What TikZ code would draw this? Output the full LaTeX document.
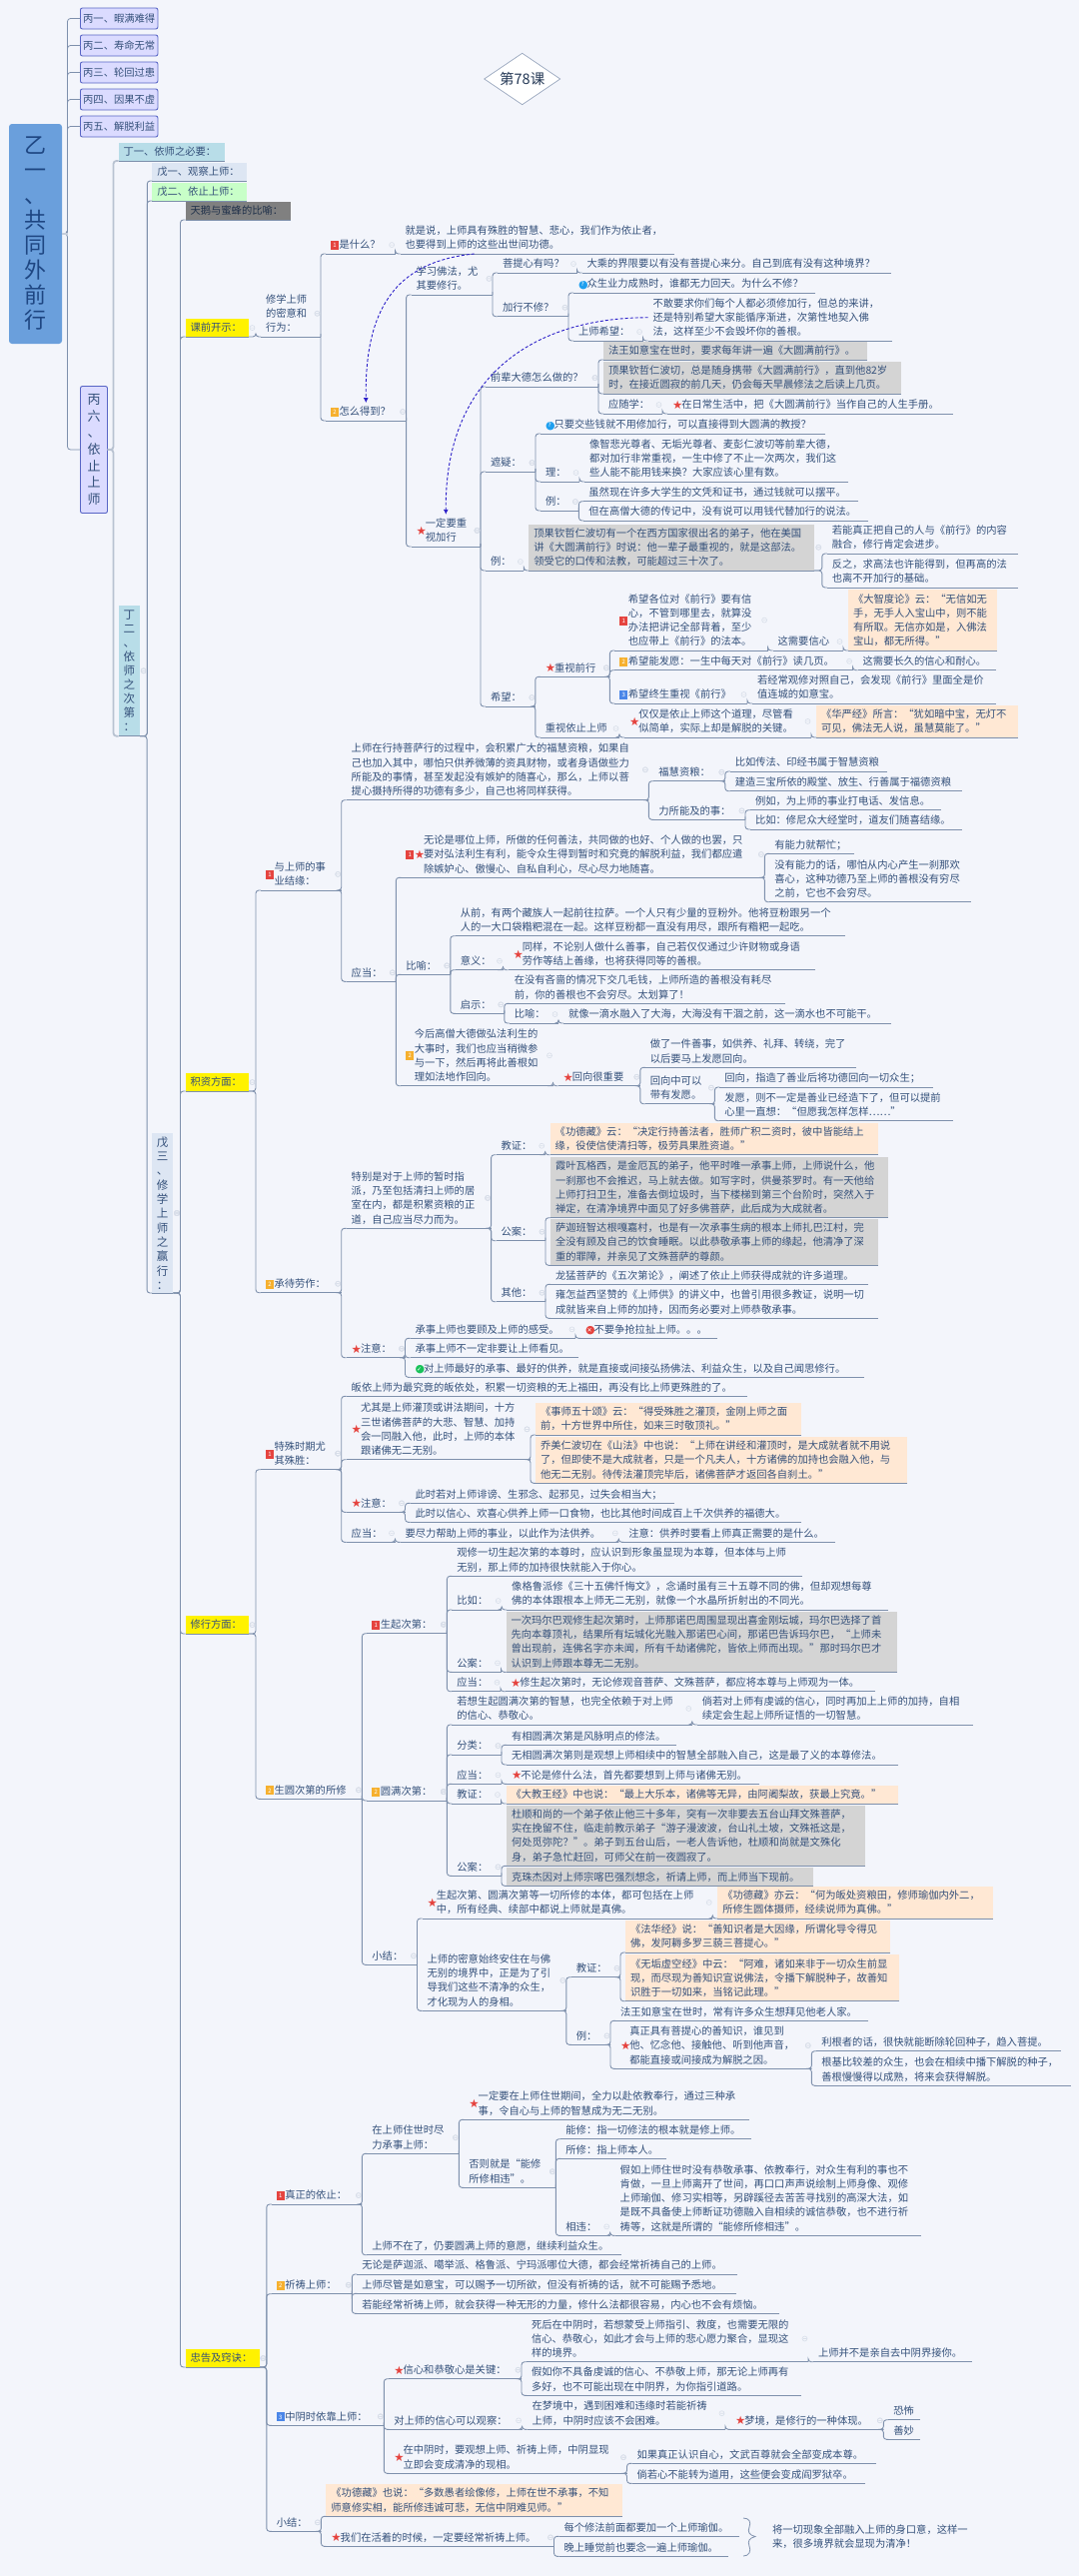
\documentclass[tikz,border=0pt]{standalone}
\usepackage{fontspec}
\setmainfont{Noto Sans CJK SC}
\newfontfamily\symf{DejaVu Sans}
\usetikzlibrary{calc,arrows.meta}
\definecolor{bgc}{HTML}{F3F5FB}
\definecolor{txt}{HTML}{34507A}
\definecolor{lnc}{HTML}{7E90AC}
\definecolor{mkc}{HTML}{D8DEE9}
\definecolor{dbl}{HTML}{2A1EC8}
\definecolor{gryf}{HTML}{D4D4D4}
\definecolor{orgf}{HTML}{FFE8D4}
\definecolor{tealf}{HTML}{B8DDE8}
\definecolor{pblf}{HTML}{DDE6F3}
\definecolor{grnf}{HTML}{C8FFC8}
\definecolor{rd}{HTML}{E5443F}
\definecolor{og}{HTML}{F6B02E}
\definecolor{bl}{HTML}{4A86E8}
\definecolor{cy}{HTML}{1E9FEF}
\definecolor{gn}{HTML}{19C25A}
\newcommand\icsq[2]{\rlap{\textcolor{#1}{\rule[-1.5pt]{8pt}{9pt}}}\makebox[8pt]{\raisebox{0.85pt}{\textcolor{white}{\fontsize{6}{6}\selectfont #2}}}\hspace{0.5pt}}
\newcommand\Ra{\icsq{rd}{1}}
\newcommand\Ob{\icsq{og}{2}}
\newcommand\Bc{\icsq{bl}{3}}
\newcommand\St{\makebox[9.3pt][l]{\raisebox{-1.1pt}{\textcolor{rd}{\symf\fontsize{11.5}{11.5}\selectfont ★}}}}
\newcommand\iccirc[2]{\rlap{\raisebox{-1pt}{\textcolor{#1}{\symf\fontsize{11}{11}\selectfont ●}}}\makebox[8.5pt]{\raisebox{0.8pt}{\textcolor{white}{\symf\fontsize{6}{6}\selectfont #2}}}}
\newcommand\Qu{\iccirc{cy}{?}}
\newcommand\Xx{\iccirc{rd}{✕}}
\newcommand\Ck{\iccirc{gn}{✓}}
\tikzset{
 tn/.style={anchor=south west,inner xsep=5pt,inner ysep=1.8pt,outer sep=0pt,text=txt,font=\fontsize{10.3}{14.3}\selectfont},
 conn/.style={draw=lnc,line width=0.9pt},
 mrk/.style={draw=mkc,line width=0.6pt},
 gry/.style={fill=gryf},
 org/.style={fill=orgf},
 yel/.style={fill=yellow},
 vbox/.style={inner sep=0pt,outer sep=0pt,align=center,text=txt},
 bingnode/.style={rounded corners=2pt,draw=blue!30!lnc,fill=blue!14!white,line width=0.9pt,text=txt,inner sep=0pt,outer sep=0pt,minimum width=77.5pt,minimum height=21pt,font=\fontsize{10.3}{14.3}\selectfont},
 jump/.style={draw=dbl,line width=0.9pt,densely dashed,-{Latex[length=5pt,width=5pt]}},
}
\newcommand\N[7]{\pgfmathsetmacro\nw{max(#4-#2-15,1)}\pgfmathsetmacro\nx{#2+5}%
 \node[tn,#5] (#1) at (\nx,#3) {\raisebox{-1pt}[\height][\depth]{\makebox[\nw pt][l]{#6\begin{tabular}{@{}l@{}}#7\end{tabular}}}};
 \draw[conn] (#1.south west)--(#1.south east);}
\newcommand\C[2]{\coordinate (tk) at ($(#2.south west)+(-5pt,0)$);
 \draw[conn,rounded corners=3pt] (#1.south east) -- (tk |- #1.south east) -- (tk) -- (#2.south west);
 \coordinate (mk) at ($(tk |- #1.east)+(-3.5pt,0)$);
 \draw[mrk] (mk) circle[radius=2.5pt] ($(mk)+(-1.5pt,0)$) -- ($(mk)+(1.5pt,0)$);}
\newcommand\CC[2]{\foreach \cc in {#2}{\C{#1}{\cc}}}
\begin{document}
\begin{tikzpicture}[x=1pt,y=-1pt]
\useasboundingbox (0,0) rectangle (1080,2578);
\fill[bgc] (0,0) rectangle (1080,2578);
% title
\coordinate (titleanchor) at (522.7,79);
\path[fill=white,draw=lnc!80,line width=0.7pt] (titleanchor)+(-38,0) -- +(0,-25.7) -- +(38,0) -- +(0,25.7) -- cycle;
\node[text=txt!70!black,font=\fontsize{14.5}{16}\selectfont,inner sep=0pt] (title) at (titleanchor) {第78课};
% left column
\node[rounded corners=3pt,inner sep=0pt,outer sep=0pt,minimum width=53pt,minimum height=220pt,vbox,font=\fontsize{22}{25}\selectfont,fill={rgb,255:red,106;green,159;blue,220},text={rgb,255:red,30;green,70;blue,130}] (root) at (35.5,234) {乙\\一\\、\\共\\同\\外\\前\\行};
\foreach \nm/\yy/\tt in {ba/18.5/丙一、暇满难得,bb/45.5/丙二、寿命无常,bc/72.5/丙三、轮回过患,bd/99.5/丙四、因果不虚,be/126.5/丙五、解脱利益}{
 \node[bingnode] (\nm) at (119.2,\yy) {\tt};
}
\node[vbox,rounded corners=2pt,draw=blue!30!lnc,fill=blue!14!white,line width=0.9pt,minimum width=27pt,minimum height=127pt,font=\fontsize{13}{16.6}\selectfont] (bf) at (94,450) {丙\\六\\、\\依\\止\\上\\师};
\coordinate (tka) at (67.5,0);
\foreach \nm in {ba,bb,bc,bd,be,bf}{
 \draw[conn,rounded corners=3pt,line width=0.8pt] (root.east) -- (tka |- root.east) -- (tka |- \nm.west) -- (\nm.west);
}
\draw[draw=lnc!45,line width=1.6pt] (root.east) -- (tka |- root.east);
% ding
\N{dy}{113.5}{161}{225}{fill=tealf}{}{丁一、依师之必要：}
\node[vbox,fill=tealf,minimum width=21.5pt,minimum height=130.7pt,font=\fontsize{11.5}{14}\selectfont] (de) at (129.3,671.3) {丁\\二\\、\\依\\师\\之\\次\\第\\：};
\coordinate (tkb) at (113.5,0);
\draw[draw=lnc!55,line width=1.8pt,rounded corners=3pt] (bf.east) -- (tkb |- bf.east) -- (tkb |- dy.south west) -- (dy.south west);
\draw[draw=lnc!55,line width=1.8pt,rounded corners=3pt] (bf.east) -- (tkb |- bf.east) -- (tkb |- de.south west) -- (de.south west);
\draw[conn] (de.south west) -- (de.south east);
\N{wa}{147.3}{181}{247}{fill=pblf}{}{戊一、观察上师：}
\N{wb}{147.3}{201}{247}{fill=grnf}{}{戊二、依止上师：}
\node[vbox,fill=pblf,minimum width=21.3pt,minimum height=160pt,font=\fontsize{11.5}{14.3}\selectfont] (wc) at (162.7,1214) {戊\\三\\、\\修\\学\\上\\师\\之\\赢\\行\\：};
\draw[conn] (wc.south west) -- (wc.south east);
\CC{de}{wa,wb,wc}
% main branches
\N{swan}{180.5}{220}{291}{fill={rgb,255:red,128;green,128;blue,128}}{}{\textcolor{txt!60!black}{天鹅与蜜蜂的比喻：}}
\N{kq}{180.5}{337}{249}{yel}{}{课前开示：}
\N{jz}{180.5}{1092}{249}{yel}{}{积资方面：}
\N{xx}{180.5}{1635}{249}{yel}{}{修行方面：}
\N{zg}{180.5}{2369}{260}{yel}{}{忠告及窍诀：}
\CC{wc}{swan,kq,jz,xx,zg}
% ---- 课前开示
\N{a1}{256}{337}{321}{}{}{修学上师\\的密意和\\行为：}
\C{kq}{a1}
\N{a2}{321}{254}{395.6}{}{\Ra}{是什么？}
\N{a3}{395.6}{254}{675}{}{}{就是说，上师具有殊胜的智慧、悲心，我们作为依止者，\\也要得到上师的这些出世间功德。}
\C{a2}{a3}
\N{a4}{321}{421}{406.6}{}{\Ob}{怎么得到？}
\CC{a1}{a2,a4}
\N{a5}{406.6}{295}{493}{}{}{学习佛法，尤\\其要修行。}
\N{a6}{406.6}{547}{481}{}{\St}{一定要重\\视加行}
\CC{a4}{a5,a6}
\N{a7}{493}{273}{577.5}{}{}{菩提心有吗？}
\N{a8}{577.5}{273}{892}{}{}{大乘的界限要以有没有菩提心来分。自己到底有没有这种境界？}
\C{a7}{a8}
\N{a9}{493}{316.7}{569}{}{}{加行不修？}
\CC{a5}{a7,a9}
\N{a10}{569}{293}{816}{}{\Qu}{众生业力成熟时，谁都无力回天。为什么不修？}
\N{a11}{569}{341}{643.6}{}{}{上师希望：}
\CC{a9}{a10,a11}
\N{a12}{643.6}{341}{893}{}{}{不敢要求你们每个人都必须修加行，但总的来讲，\\还是特别希望大家能循序渐进，次第性地契入佛\\法，这样至少不会毁坏你的善根。}
\C{a11}{a12}
% 一定要
\N{b1}{481}{387}{599}{}{}{前辈大德怎么做的？}
\N{b2}{599}{360}{868}{gry}{}{法王如意宝在世时，要求每年讲一遍《大圆满前行》。}
\N{b3}{599}{394}{902}{gry}{}{顶果钦哲仁波切，总是随身携带《大圆满前行》，直到他82岁\\时，在接近圆寂的前几天，仍会每天早晨修法之后读上几页。}
\N{b4}{599}{414}{663}{}{}{应随学：}
\N{b5}{663}{414}{954}{}{\St}{在日常生活中，把《大圆满前行》当作自己的人生手册。}
\CC{b1}{b2,b3,b4}
\C{b4}{b5}
\N{c1}{481}{472}{536}{}{}{遮疑：}
\N{c2}{536}{434}{825.7}{}{\Qu}{只要交些钱就不用修加行，可以直接得到大圆满的教授？}
\N{c3}{536}{482}{580}{}{}{理：}
\N{c4}{580}{482}{849}{}{}{像智悲光尊者、无垢光尊者、麦彭仁波切等前辈大德，\\都对加行非常重视，一生中修了不止一次两次，我们这\\些人能不能用钱来换？大家应该心里有数。}
\C{c3}{c4}
\N{c5}{536}{511}{579.4}{}{}{例：}
\CC{c1}{c2,c3,c5}
\N{c6}{579.4}{501.7}{859}{}{}{虽然现在许多大学生的文凭和证书，通过钱就可以摆平。}
\N{c7}{579.4}{521}{869}{}{}{但在高僧大德的传记中，没有说可以用钱代替加行的说法。}
\CC{c5}{c6,c7}
\N{d1}{481}{571}{524.4}{}{}{例：}
\N{d2}{524.4}{571}{814.8}{gry}{}{顶果钦哲仁波切有一个在西方国家很出名的弟子，他在美国\\讲《大圆满前行》时说：他一辈子最重视的，就是这部法。\\领受它的口传和法教，可能超过三十次了。}
\C{d1}{d2}
\N{d3}{822.8}{554}{1018.5}{}{}{若能真正把自己的人与《前行》的内容\\融合，修行肯定会进步。}
\N{d4}{822.8}{588}{1018.5}{}{}{反之，求高法也许能得到，但再高的法\\也离不开加行的基础。}
\CC{d2}{d3,d4}
\N{e1}{481}{707}{535.8}{}{}{希望：}
\N{e2}{535.8}{677.3}{610.4}{}{\St}{重视前行}
\N{e3}{610.4}{651}{768.6}{}{\Ra}{希望各位对《前行》要有信\\心，不管到哪里去，就算没\\办法把讲记全部背着，至少\\也应带上《前行》的法本。}
\N{e4}{768.6}{651}{844}{}{}{这需要信心}
\N{e5}{844}{651}{998}{org}{}{《大智度论》云：“无信如无\\手，无手人入宝山中，则不能\\有所取。无信亦如是，入佛法\\宝山，都无所得。”}
\C{e3}{e4}\C{e4}{e5}
\N{e6}{610.4}{670.7}{853.6}{}{\Ob}{希望能发愿：一生中每天对《前行》读几页。}
\N{e7}{853.6}{670.7}{996.7}{}{}{这需要长久的信心和耐心。}
\C{e6}{e7}
\N{e8}{610.4}{704}{748}{}{\Bc}{希望终生重视《前行》}
\N{e9}{748}{704}{996.7}{}{}{若经常观修对照自己，会发现《前行》里面全是价\\值连城的如意宝。}
\C{e8}{e9}
\CC{e2}{e3,e6,e8}
\N{e10}{535.8}{738}{620}{}{}{重视依止上师}
\N{e11}{620}{738}{812}{}{\St}{仅仅是依止上师这个道理，尽管看\\似简单，实际上却是解脱的关键。}
\N{e12}{812}{738}{1018.5}{org}{}{《华严经》所言：“犹如暗中宝，无灯不\\可见，佛法无人说，虽慧莫能了。”}
\C{e10}{e11}\C{e11}{e12}
\CC{e1}{e2,e10}
\CC{a6}{b1,c1,d1,e1}
% ---- 积资方面
\N{f1}{256}{891}{341.7}{}{\Ra}{与上师的事\\业结缘：}
\N{f2}{341.7}{800.7}{649.4}{}{}{上师在行持菩萨行的过程中，会积累广大的福慧资粮，如果自\\己也加入其中，哪怕只供养微薄的资具财物，或者身语做些力\\所能及的事情，甚至发起没有嫉妒的随喜心，那么，上师以菩\\提心摄持所得的功德有多少，自己也将同样获得。}
\N{f3}{649.4}{781.7}{725.8}{}{}{福慧资粮：}
\N{f4}{725.8}{772}{887.7}{}{}{比如传法、印经书属于智慧资粮}
\N{f5}{725.8}{791.7}{963.4}{}{}{建造三宝所依的殿堂、放生、行善属于福德资粮}
\CC{f3}{f4,f5}
\N{f6}{649.4}{820.3}{746}{}{}{力所能及的事：}
\N{f7}{746}{810.7}{942}{}{}{例如，为上师的事业打电话、发信息。}
\N{f8}{746}{830}{963.4}{}{}{比如：修尼众大经堂时，道友们随喜结缘。}
\CC{f6}{f7,f8}
\CC{f2}{f3,f6}
\N{g1}{341.7}{982.3}{396.3}{}{}{应当：}
\N{g2}{396.3}{878.3}{765.4}{}{\Ra\St}{无论是哪位上师，所做的任何善法，共同做的也好、个人做的也罢，只\\要对弘法利生有利，能令众生得到暂时和究竟的解脱利益，我们都应遣\\除嫉妒心、傲慢心、自私自利心，尽心尽力地随喜。}
\N{g3}{765.4}{854.3}{855}{}{}{有能力就帮忙；}
\N{g4}{765.4}{902.7}{972}{}{}{没有能力的话，哪怕从内心产生一刹那欢\\喜心，这种功德乃至上师的善根没有穷尽\\之前，它也不会穷尽。}
\CC{g2}{g3,g4}
\N{g5}{396.3}{975.3}{450.8}{}{}{比喻：}
\N{g6}{450.8}{936.7}{846.3}{}{}{从前，有两个藏族人一起前往拉萨。一个人只有少量的豆粉外。他将豆粉跟另一个\\人的一大口袋糌粑混在一起。这样豆粉都一直没有用尽，跟所有糌粑一起吃。}
\N{g7}{450.8}{970.7}{503.5}{}{}{意义：}
\N{g8}{503.5}{970.7}{816}{}{\St}{同样，不论别人做什么善事，自己若仅仅通过少许财物或身语\\劳作等结上善缘，也将获得同等的善根。}
\C{g7}{g8}
\N{g9}{450.8}{1014.3}{504.8}{}{}{启示：}
\N{g10}{504.8}{1004.3}{785.5}{}{}{在没有吝啬的情况下交几毛钱，上师所造的善根没有耗尽\\前，你的善根也不会穷尽。太划算了！}
\N{g11}{504.8}{1024}{559}{}{}{比喻：}
\N{g12}{559}{1024}{892}{}{}{就像一滴水融入了大海，大海没有干涸之前，这一滴水也不可能干。}
\C{g11}{g12}
\CC{g9}{g10,g11}
\CC{g5}{g6,g7,g9}
\N{g13}{396.3}{1086.7}{553.5}{}{\Ob}{今后高僧大德做弘法利生的\\大事时，我们也应当稍微参\\与一下，然后再将此善根如\\理如法地作回向。}
\N{g14}{553.5}{1086.7}{640.8}{}{\St}{回向很重要}
\C{g13}{g14}
\N{g15}{640.8}{1068.3}{857}{}{}{做了一件善事，如供养、礼拜、转绕，完了\\以后要马上发愿回向。}
\N{g16}{640.8}{1104.7}{715.4}{}{}{回向中可以\\带有发愿。}
\N{g17}{715.4}{1088}{933.6}{}{}{回向，指造了善业后将功德回向一切众生；}
\N{g18}{715.4}{1121.7}{953.7}{}{}{发愿，则不一定是善业已经造下了，但可以提前\\心里一直想：“但愿我怎样怎样……”}
\CC{g16}{g17,g18}
\CC{g14}{g15,g16}
\CC{g1}{g2,g5,g13}
\CC{f1}{f2,g1}
\N{h1}{256}{1293.7}{341.7}{}{\Ob}{承待劳作：}
\N{h2}{341.7}{1229.3}{491.6}{}{}{特别是对于上师的暂时指\\派，乃至包括清扫上师的居\\室在内，都是积累资粮的正\\道，自己应当尽力而为。}
\N{h3}{491.6}{1155.7}{545.7}{}{}{教证：}
\N{h4}{545.7}{1155.7}{879}{org}{}{《功德藏》云：“决定行持善法者，胜师广积二资时，彼中皆能结上\\缘，役使信使清扫等，极劳具果胜资道。”}
\C{h3}{h4}
\N{h5}{491.6}{1241.7}{546}{}{}{公案：}
\N{h6}{546}{1218.7}{889.4}{gry}{}{霞叶瓦格西，是金厄瓦的弟子，他平时唯一承事上师，上师说什么，他\\一刹那也不会推迟，马上就去做。如写字时，供曼茶罗时。有一天他给\\上师打扫卫生，准备去倒垃圾时，当下楼梯到第三个台阶时，突然入于\\禅定，在清净境界中面见了好多佛菩萨，此后成为大成就者。}
\N{h7}{546}{1266.3}{879}{gry}{}{萨迦班智达根嘎嘉村，也是有一次承事生病的根本上师扎巴江村，完\\全没有顾及自己的饮食睡眠。以此恭敬承事上师的缘起，他清净了深\\重的罪障，并亲见了文殊菩萨的尊颜。}
\CC{h5}{h6,h7}
\N{h8}{491.6}{1302.7}{546}{}{}{其他：}
\N{h9}{546}{1285.3}{868.7}{}{}{龙猛菩萨的《五次第论》，阐述了依止上师获得成就的许多道理。}
\N{h10}{546}{1319.3}{879}{}{}{雍怎益西坚赞的《上师供》的讲义中，也曾引用很多教证，说明一切\\成就皆来自上师的加持，因而务必要对上师恭敬承事。}
\CC{h8}{h9,h10}
\CC{h2}{h3,h5,h8}
\N{h11}{341.7}{1358.7}{405.5}{}{\St}{注意：}
\N{h12}{405.5}{1339.3}{576}{}{}{承事上师也要顾及上师的感受。}
\N{h13}{576}{1339.3}{718}{}{\Xx}{不要争抢拉扯上师。。。}
\C{h12}{h13}
\N{h14}{405.5}{1358.7}{579.4}{}{}{承事上师不一定非要让上师看见。}
\N{h15}{405.5}{1378.3}{864.7}{}{\Ck}{对上师最好的承事、最好的供养，就是直接或间接弘扬佛法、利益众生，以及自己闻思修行。}
\CC{h11}{h12,h14,h15}
\CC{h1}{h2,h11}
\CC{jz}{f1,h1}
% ---- 修行方面
\N{i1}{256}{1470.7}{341.7}{}{\Ra}{特殊时期尤\\其殊胜：}
\N{i2}{341.7}{1397.3}{748}{}{}{皈依上师为最究竟的皈依处，积累一切资粮的无上福田，再没有比上师更殊胜的了。}
\N{i3}{341.7}{1460.7}{531}{}{\St}{尤其是上师灌顶或讲法期间，十方\\三世诸佛菩萨的大悲、智慧、加持\\会一同融入他，此时，上师的本体\\跟诸佛无二无别。}
\N{i4}{531}{1436}{801.5}{org}{}{《事师五十颂》云：“得受殊胜之灌顶，金刚上师之面\\前，十方世界中所住，如来三时敬顶礼。”}
\N{i5}{531}{1484.3}{907.8}{org}{}{乔美仁波切在《山法》中也说：“上师在讲经和灌顶时，是大成就者就不用说\\了，但即使不是大成就者，只是一个凡夫人，十方诸佛的加持也会融入他，与\\他无二无别。待传法灌顶完毕后，诸佛菩萨才返回各自刹土。”}
\CC{i3}{i4,i5}
\N{i6}{341.7}{1513.3}{405.5}{}{\St}{注意：}
\N{i7}{405.5}{1504.3}{675}{}{}{此时若对上师诽谤、生邪念、起邪见，过失会相当大；}
\N{i8}{405.5}{1523.3}{801.5}{}{}{此时以信心、欢喜心供养上师一口食物，也比其他时间成百上千次供养的福德大。}
\CC{i6}{i7,i8}
\N{i9}{341.7}{1543.3}{395.5}{}{}{应当：}
\N{i10}{395.5}{1543.3}{619.3}{}{}{要尽力帮助上师的事业，以此作为法供养。}
\N{i11}{619.3}{1543.3}{836}{}{}{注意：供养时要看上师真正需要的是什么。}
\C{i9}{i10}\C{i10}{i11}
\CC{i1}{i2,i3,i6,i9}
\N{j1}{256}{1800.3}{362.4}{}{\Ob}{生圆次第的所修}
\N{j2}{362.4}{1634.7}{447.4}{}{\Ra}{生起次第：}
\N{j3}{447.4}{1577.3}{802.7}{}{}{观修一切生起次第的本尊时，应认识到形象虽显现为本尊，但本体与上师\\无别，那上师的加持很快就能入于你心。}
\N{j4}{447.4}{1611}{502.2}{}{}{比如：}
\N{j5}{502.2}{1611}{888.8}{}{}{像格鲁派修《三十五佛忏悔文》，念诵时虽有三十五尊不同的佛，但却观想每尊\\佛的本体跟根本上师无二无别，就像一个水晶所折射出的不同光。}
\C{j4}{j5}
\N{j6}{447.4}{1673.3}{501.5}{}{}{公案：}
\N{j7}{501.5}{1673.3}{898}{gry}{}{一次玛尔巴观修生起次第时，上师那诺巴周围显现出喜金刚坛城，玛尔巴选择了首\\先向本尊顶礼，结果所有坛城化光融入那诺巴心间，那诺巴告诉玛尔巴，“上师未\\曾出现前，连佛名字亦未闻，所有千劫诸佛陀，皆依上师而出现。”那时玛尔巴才\\认识到上师跟本尊无二无别。}
\C{j6}{j7}
\N{j8}{447.4}{1692.7}{501}{}{}{应当：}
\N{j9}{501}{1692.7}{876}{}{\St}{修生起次第时，无论修观音菩萨、文殊菩萨，都应将本尊与上师观为一体。}
\C{j8}{j9}
\CC{j2}{j3,j4,j6,j8}
\N{k1}{362.4}{1802}{447.4}{}{\Ob}{圆满次第：}
\N{k2}{447.4}{1726}{692.8}{}{}{若想生起圆满次第的智慧，也完全依赖于对上师\\的信心、恭敬心。}
\N{k3}{692.8}{1726}{973.8}{}{}{倘若对上师有虔诚的信心，同时再加上上师的加持，自相\\续定会生起上师所证悟的一切智慧。}
\C{k2}{k3}
\N{k4}{447.4}{1756}{502}{}{}{分类：}
\N{k5}{502}{1746.3}{677}{}{}{有相圆满次第是风脉明点的修法。}
\N{k6}{502}{1766}{899}{}{}{无相圆满次第则是观想上师相续中的智慧全部融入自己，这是最了义的本尊修法。}
\CC{k4}{k5,k6}
\N{k7}{447.4}{1785.3}{502}{}{}{应当：}
\N{k8}{502}{1785.3}{760}{}{\St}{不论是修什么法，首先都要想到上师与诸佛无别。}
\C{k7}{k8}
\N{k9}{447.4}{1805}{501.5}{}{}{教证：}
\N{k10}{501.5}{1805}{899}{org}{}{《大教王经》中也说：“最上大乐本，诸佛等无异，由阿阇梨故，获最上究竟。”}
\C{k9}{k10}
\N{k11}{447.4}{1877.3}{502}{}{}{公案：}
\N{k12}{502}{1867.3}{866.4}{gry}{}{杜顺和尚的一个弟子依止他三十多年，突有一次非要去五台山拜文殊菩萨，\\实在挽留不住，临走前教示弟子“游子漫波波，台山礼土坡，文殊祗这是，\\何处觅弥陀？”。弟子到五台山后，一老人告诉他，杜顺和尚就是文殊化\\身，弟子急忙赶回，可师父在前一夜圆寂了。}
\N{k13}{502}{1887.3}{814}{gry}{}{克珠杰因对上师宗喀巴强烈想念，祈请上师，而上师当下现前。}
\CC{k11}{k12,k13}
\CC{k1}{k2,k4,k7,k9,k11}
\N{l1}{362.4}{1966.3}{417.5}{}{}{小结：}
\N{l2}{417.5}{1920}{713.3}{}{\St}{生起次第、圆满次第等一切所修的本体，都可包括在上师\\中，所有经典、续部中都说上师就是真佛。}
\N{l3}{713.3}{1920}{994}{org}{}{《功德藏》亦云：“何为皈处资粮田，修师瑜伽内外二，\\所修生圆体摄师，经续说师为真佛。”}
\C{l2}{l3}
\N{l4}{417.5}{2012.3}{566.8}{}{}{上师的密意始终安住在与佛\\无别的境界中，正是为了引\\导我们这些不清净的众生，\\才化现为人的身相。}
\N{l5}{566.8}{1978.7}{621}{}{}{教证：}
\N{l6}{621}{1954}{890.5}{org}{}{《法华经》说：“善知识者是大因缘，所谓化导令得见\\佛，发阿耨多罗三藐三菩提心。”}
\N{l7}{621}{2002.7}{900}{org}{}{《无垢虚空经》中云：“阿难，诸如来非于一切众生前显\\现，而尽现为善知识宣说佛法，令播下解脱种子，故善知\\识胜于一切如来，当铭记此理。”}
\CC{l5}{l6,l7}
\N{l8}{566.8}{2046.3}{611}{}{}{例：}
\N{l9}{611}{2022.3}{869.3}{}{}{法王如意宝在世时，常有许多众生想拜见他老人家。}
\N{l10}{611}{2070.3}{812.3}{}{\St}{真正具有菩提心的善知识，谁见到\\他、忆念他、接触他、听到他声音，\\都能直接或间接成为解脱之因。}
\N{l11}{812.3}{2052.7}{1061.7}{}{}{利根者的话，很快就能断除轮回种子，趋入菩提。}
\N{l12}{812.3}{2087.3}{1071.7}{}{}{根基比较差的众生，也会在相续中播下解脱的种子，\\善根慢慢得以成熟，将来会获得解脱。}
\CC{l10}{l11,l12}
\CC{l8}{l9,l10}
\CC{l4}{l5,l8}
\CC{l1}{l2,l4}
\CC{j1}{j2,k1,l1}
\CC{xx}{i1,j1}
% ---- 忠告及窍诀
\N{m1}{266.8}{2206}{362.4}{}{\Ra}{真正的依止：}
\N{m2}{362.4}{2155.3}{459.4}{}{}{在上师住世时尽\\力承事上师：}
\N{m3}{459.4}{2121.3}{750}{}{\St}{一定要在上师住世期间，全力以赴依教奉行，通过三种承\\事，令自心与上师的智慧成为无二无别。}
\N{m4}{459.4}{2189.3}{556.4}{}{}{否则就是“能修\\所修相违”。}
\N{m5}{556.4}{2140.7}{751.6}{}{}{能修：指一切修法的根本就是修上师。}
\N{m6}{556.4}{2160.3}{666.7}{}{}{所修：指上师本人。}
\N{m7}{556.4}{2237.3}{610.7}{}{}{相违：}
\N{m8}{610.7}{2237.3}{922}{}{}{假如上师住世时没有恭敬承事、依教奉行，对众生有利的事也不\\肯做，一旦上师离开了世间，再口口声声说绘制上师身像、观修\\上师瑜伽、修习实相等，另辟蹊径去苦苦寻找别的高深大法，如\\是既不具备使上师断证功德融入自相续的诚信恭敬，也不进行祈\\祷等，这就是所谓的“能修所修相违”。}
\C{m7}{m8}
\CC{m4}{m5,m6,m7}
\CC{m2}{m3,m4}
\N{m9}{362.4}{2256.7}{622}{}{}{上师不在了，仍要圆满上师的意愿，继续利益众生。}
\CC{m1}{m2,m9}
\N{n1}{266.8}{2295.7}{352.3}{}{\Ob}{祈祷上师：}
\N{n2}{352.3}{2276}{738.4}{}{}{无论是萨迦派、噶举派、格鲁派、宁玛派哪位大德，都会经常祈祷自己的上师。}
\N{n3}{352.3}{2295.3}{737}{}{}{上师尽管是如意宝，可以赐予一切所欲，但没有祈祷的话，就不可能赐予悉地。}
\N{n4}{352.3}{2315.3}{780}{}{}{若能经常祈祷上师，就会获得一种无形的力量，修什么法都很容易，内心也不会有烦恼。}
\CC{n1}{n2,n3,n4}
\N{o1}{266.8}{2427.3}{384.3}{}{\Bc}{中阴时依靠上师：}
\N{o2}{384.3}{2380.7}{522}{}{\St}{信心和恭敬心是关键：}
\N{o3}{522}{2363.7}{809}{}{}{死后在中阴时，若想蒙受上师指引、救度，也需要无限的\\信心、恭敬心，如此才会与上师的悲心愿力聚合，显现这\\样的境界。}
\N{o4}{809}{2363.7}{973}{}{}{上师并不是亲自去中阴界接你。}
\C{o3}{o4}
\N{o5}{522}{2397.3}{802.4}{}{}{假如你不具备虔诚的信心、不恭敬上师，那无论上师再有\\多好，也不可能出现在中阴界，为你指引道路。}
\CC{o2}{o3,o5}
\N{o6}{384.3}{2431.3}{522.6}{}{}{对上师的信心可以观察：}
\N{o7}{522.6}{2431.3}{726}{}{}{在梦境中，遇到困难和违缘时若能祈祷\\上师，中阴时应该不会困难。}
\N{o8}{726}{2431.3}{884.3}{}{\St}{梦境，是修行的一种体现。}
\N{o9}{884.3}{2421.7}{921}{}{}{恐怖}
\N{o10}{884.3}{2441.3}{921}{}{}{善妙}
\C{o6}{o7}\C{o7}{o8}
\CC{o8}{o9,o10}
\N{o11}{384.3}{2475.3}{627.5}{}{\St}{在中阴时，要观想上师、祈祷上师，中阴显现\\立即会变成清净的现相。}
\N{o12}{627.5}{2465.3}{876.6}{}{}{如果真正认识自心，文武百尊就会全部变成本尊。}
\N{o13}{627.5}{2485.3}{866}{}{}{倘若心不能转为道用，这些便会变成阎罗狱卒。}
\CC{o11}{o12,o13}
\CC{o1}{o2,o6,o11}
\N{p1}{266.8}{2533.3}{321.4}{}{}{小结：}
\N{p2}{321.4}{2518.3}{622.7}{org}{}{《功德藏》也说：“多数愚者绘像修，上师在世不承事，不知\\师意修实相，能所修违诚可悲，无信中阴难见师。”}
\N{p3}{321.4}{2548.3}{554.5}{}{\St}{我们在活着的时候，一定要经常祈祷上师。}
\N{p4}{554.5}{2538.3}{740}{}{}{每个修法前面都要加一个上师瑜伽。}
\N{p5}{554.5}{2558.3}{729}{}{}{晚上睡觉前也要念一遍上师瑜伽。}
\CC{p3}{p4,p5}
\CC{p1}{p2,p3}
\CC{zg}{m1,n1,o1,p1}
\node[tn,anchor=west] (p6) at (768,2539.3) {\begin{tabular}{@{}l@{}}将一切现象全部融入上师的身口意，这样一\\来，很多境界就会显现为清净！\end{tabular}};
\draw[draw=lnc,line width=0.8pt] (744,2520) .. controls (750,2520) and (752,2524) .. (750,2529) .. controls (748,2534) and (750,2537) .. (756,2538.5) .. controls (750,2540) and (748,2543) .. (750,2548) .. controls (752,2553) and (750,2558) .. (744,2558);
% jumps
\coordinate (js) at ($(a3.south west)!0.27!(a3.south east)$);
\draw[jump] (js) .. controls (395,262) and (365,310) .. (a4.north);
\draw[jump] (a12.west) .. controls (530,318) and (445,380) .. (a6.north);
\end{tikzpicture}
\end{document}
